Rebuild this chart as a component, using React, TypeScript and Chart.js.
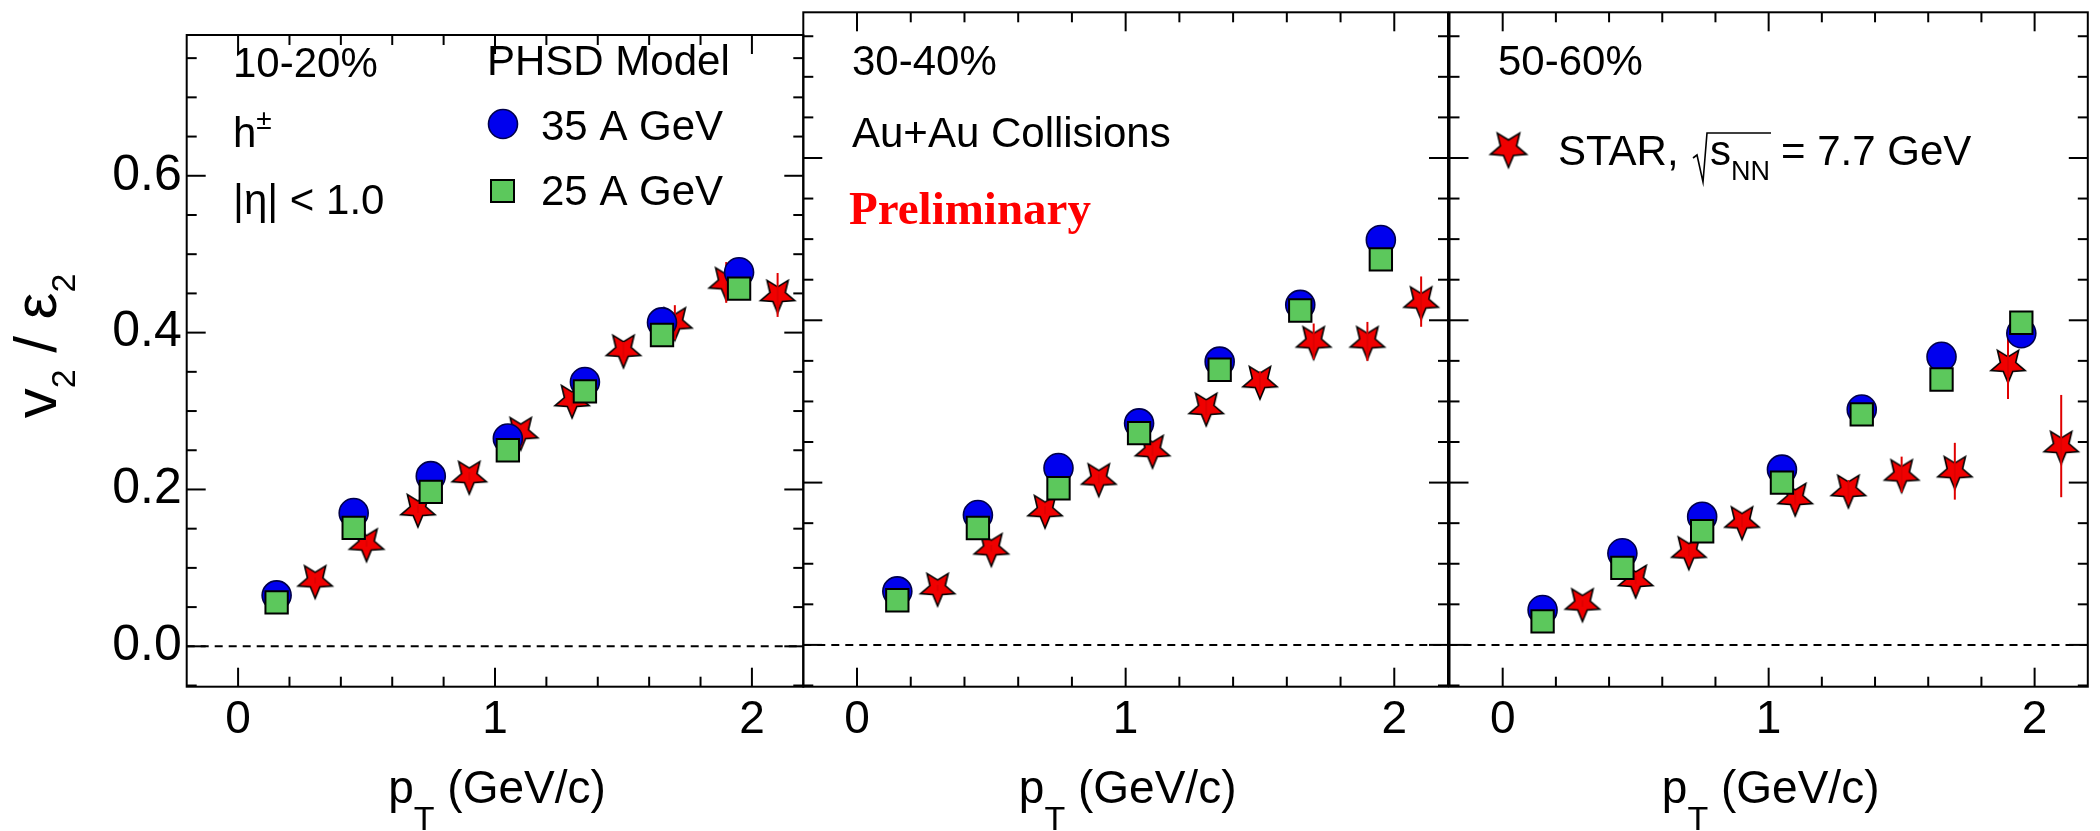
import React, { useEffect, useRef } from 'react';
import { Chart, registerables } from 'chart.js';

Chart.register(...registerables);

// ---------------- data ----------------
const phsdPt = [0.15, 0.45, 0.75, 1.05, 1.35, 1.65, 1.95];
const starPt = [0.3, 0.5, 0.7, 0.9, 1.1, 1.3, 1.5, 1.7, 1.9, 2.1];

// 10-20%
const p1Phsd35 = [0.065, 0.17, 0.217, 0.265, 0.337, 0.413, 0.477];
const p1Phsd25 = [0.056, 0.151, 0.197, 0.25, 0.325, 0.397, 0.456];
const p1Star = [0.084, 0.131, 0.175, 0.217, 0.273, 0.314, 0.378, 0.413, 0.464, 0.448];
const p1StarErr = [0.004, 0.004, 0.005, 0.005, 0.006, 0.008, 0.01, 0.022, 0.026, 0.028];

// 30-40%
const p2Phsd35 = [0.066, 0.16, 0.218, 0.273, 0.349, 0.419, 0.499];
const p2Phsd25 = [0.055, 0.144, 0.193, 0.261, 0.339, 0.412, 0.475];
const p2Star = [0.07, 0.119, 0.166, 0.205, 0.24, 0.292, 0.325, 0.374, 0.374, 0.423];
const p2StarErr = [0.004, 0.004, 0.005, 0.006, 0.007, 0.009, 0.012, 0.022, 0.024, 0.031];

// 50-60%
const p3Phsd35 = [0.043, 0.113, 0.158, 0.216, 0.29, 0.355, 0.384];
const p3Phsd25 = [0.029, 0.095, 0.14, 0.2, 0.284, 0.327, 0.397];
const p3Star = [0.051, 0.08, 0.115, 0.152, 0.181, 0.191, 0.21, 0.214, 0.345, 0.245];
const p3StarErr = [0.004, 0.005, 0.006, 0.007, 0.008, 0.012, 0.022, 0.035, 0.042, 0.063];

const xTickValues = [0, 1, 2];
const yTickValues = [0, 0.2, 0.4, 0.6];
const zeroLineX = [-0.2, 2.2];
const xRange = [-0.2, 2.2];
const yRange = [-0.0515, 0.7795];
const centralityLabels = ['10-20%', '30-40%', '50-60%'];

// ---------------- styles ----------------
const SANS = '"Liberation Sans", Arial, Helvetica, sans-serif';
const SERIF = '"Liberation Serif", "Times New Roman", serif';
const BLUE = '#0000ee';
const BLUE_EDGE = '#00004a';
const GREEN = '#5cc85c';
const RED = '#f00000';

const H = 831;
const AREA_TOP = 12.3;
const AREA_BOTTOM = 686.7;

const layouts = [
  { canvasLeft: 0, canvasWidth: 830, areaLeft: 186.7, areaRight: 803.3 },
  { canvasLeft: 780, canvasWidth: 700, areaLeft: 803.3, areaRight: 1448 },
  { canvasLeft: 1420, canvasWidth: 680, areaLeft: 1449.5, areaRight: 2087.8 },
];

const seriesByPanel = [
  { p35: p1Phsd35, p25: p1Phsd25, star: p1Star, err: p1StarErr },
  { p35: p2Phsd35, p25: p2Phsd25, star: p2Star, err: p2StarErr },
  { p35: p3Phsd35, p25: p3Phsd25, star: p3Star, err: p3StarErr },
];

function makeStar(R: number, fill: string): HTMLCanvasElement {
  const size = Math.ceil(2 * R + 6);
  const c = document.createElement('canvas');
  c.width = size;
  c.height = size;
  const g = c.getContext('2d')!;
  const cx = size / 2;
  const cy = size / 2;
  const r = R * 0.45;
  g.beginPath();
  for (let k = 0; k < 10; k++) {
    const ang = ((90 + k * 36) * Math.PI) / 180;
    const rad = k % 2 === 0 ? R : r;
    const px = cx + rad * Math.cos(ang);
    const py = cy + rad * Math.sin(ang);
    if (k === 0) g.moveTo(px, py);
    else g.lineTo(px, py);
  }
  g.closePath();
  g.fillStyle = fill;
  g.fill();
  g.lineWidth = 1.6;
  g.strokeStyle = '#000';
  g.lineJoin = 'miter';
  g.stroke();
  return c;
}

function line(ctx: CanvasRenderingContext2D, x1: number, y1: number, x2: number, y2: number) {
  ctx.beginPath();
  ctx.moveTo(x1, y1);
  ctx.lineTo(x2, y2);
  ctx.stroke();
}

function drawFrame(chart: any) {
  const ctx: CanvasRenderingContext2D = chart.ctx;
  const { left, right, top, bottom } = chart.chartArea;
  const xs = chart.scales.x;
  const ys = chart.scales.y;
  ctx.save();
  ctx.strokeStyle = '#000';
  ctx.lineWidth = 2;
  ctx.strokeRect(left, top, right - left, bottom - top);
  for (let i = -1; i <= 12; i++) {
    const v = i * 0.2;
    if (v <= xs.min + 1e-6 || v >= xs.max - 1e-6) continue;
    const px = xs.getPixelForValue(v);
    const len = i % 5 === 0 ? 19 : 10;
    line(ctx, px, bottom, px, bottom - len);
    line(ctx, px, top, px, top + len);
  }
  for (let i = -2; i <= 16; i++) {
    const v = i * 0.05;
    if (v <= ys.min + 1e-6 || v >= ys.max - 1e-6) continue;
    const py = ys.getPixelForValue(v);
    const len = i % 4 === 0 ? 19 : 10;
    line(ctx, left, py, left + len, py);
    line(ctx, right, py, right - len, py);
  }
  ctx.restore();
}

function drawXTitle(chart: any) {
  const ctx: CanvasRenderingContext2D = chart.ctx;
  const { left, right } = chart.chartArea;
  ctx.save();
  ctx.fillStyle = '#000';
  ctx.textBaseline = 'alphabetic';
  ctx.textAlign = 'left';
  const big = `46px ${SANS}`;
  const small = `34px ${SANS}`;
  ctx.font = big;
  const wp = ctx.measureText('p').width;
  const wr = ctx.measureText(' (GeV/c)').width;
  ctx.font = small;
  const wt = ctx.measureText('T').width;
  const total = wp + wt + wr;
  let x = (left + right) / 2 - total / 2 + 2;
  ctx.font = big;
  ctx.fillText('p', x, 803);
  x += wp;
  ctx.font = small;
  ctx.fillText('T', x, 830);
  x += wt;
  ctx.font = big;
  ctx.fillText(' (GeV/c)', x, 803);
  ctx.restore();
}

function drawYTitle(chart: any) {
  const ctx: CanvasRenderingContext2D = chart.ctx;
  ctx.save();
  ctx.fillStyle = '#000';
  ctx.textBaseline = 'alphabetic';
  ctx.textAlign = 'left';
  const big = `60px ${SANS}`;
  const small = `34px ${SANS}`;
  const parts: [string, string, number][] = [
    ['v', big, 0],
    ['2', small, 19],
    [' / ', big, 0],
    ['\u03b5', big, 0],
    ['2', small, 19],
  ];
  let total = 0;
  const widths = parts.map(([t, f]) => {
    ctx.font = f;
    const w = ctx.measureText(t).width;
    total += w;
    return w;
  });
  ctx.translate(56, 346 + total / 2);
  ctx.rotate(-Math.PI / 2);
  let x = 0;
  parts.forEach(([t, f, dy], i) => {
    ctx.font = f;
    ctx.fillText(t, x, dy);
    x += widths[i];
  });
  ctx.restore();
}

function drawAnnotations(chart: any, panel: number, starLegend: HTMLCanvasElement) {
  const ctx: CanvasRenderingContext2D = chart.ctx;
  const off = layouts[panel].canvasLeft;
  const T = `42px ${SANS}`;
  ctx.save();
  ctx.fillStyle = '#000';
  ctx.textBaseline = 'alphabetic';
  ctx.textAlign = 'left';
  ctx.font = T;
  if (panel === 0) {
    ctx.fillText(centralityLabels[0], 233 - off, 77);
    ctx.fillText('h', 233 - off, 147);
    const wh = ctx.measureText('h').width;
    ctx.font = `28px ${SANS}`;
    ctx.fillText('\u00b1', 233 - off + wh, 129);
    ctx.font = T;
    ctx.fillText('|\u03b7| < 1.0', 233 - off, 214);
    ctx.fillText('PHSD Model', 487 - off, 75);
    // legend circle
    ctx.beginPath();
    ctx.arc(503 - off, 124, 14.5, 0, Math.PI * 2);
    ctx.fillStyle = BLUE;
    ctx.fill();
    ctx.lineWidth = 1.6;
    ctx.strokeStyle = BLUE_EDGE;
    ctx.stroke();
    ctx.fillStyle = '#000';
    ctx.fillText('35 A GeV', 541 - off, 140);
    // legend square
    ctx.fillStyle = GREEN;
    ctx.fillRect(491 - off, 180, 23, 22);
    ctx.lineWidth = 2;
    ctx.strokeStyle = '#000';
    ctx.strokeRect(491 - off, 180, 23, 22);
    ctx.fillStyle = '#000';
    ctx.fillText('25 A GeV', 541 - off, 205);
  } else if (panel === 1) {
    ctx.fillText(centralityLabels[1], 852 - off, 75);
    ctx.fillText('Au+Au Collisions', 852 - off, 147);
    ctx.font = `bold 47px ${SERIF}`;
    ctx.fillStyle = '#ff0000';
    ctx.fillText('Preliminary', 849 - off, 224);
  } else {
    ctx.fillText(centralityLabels[2], 1498 - off, 75);
    ctx.drawImage(starLegend, 1508.5 - off - starLegend.width / 2, 148.5 - starLegend.height / 2);
    ctx.fillText('STAR,', 1558 - off, 165);
    // sqrt(s_NN)
    ctx.lineWidth = 1.6;
    ctx.strokeStyle = '#000';
    const sx = 1710 - off;
    const ws = ctx.measureText('s').width;
    ctx.fillText('s', sx, 165);
    ctx.font = `27px ${SANS}`;
    const wnn = ctx.measureText('NN').width;
    ctx.fillText('NN', sx + ws, 180);
    const endBar = sx + ws + wnn + 1;
    ctx.beginPath();
    ctx.moveTo(1693 - off, 158);
    ctx.lineTo(1697 - off, 155);
    ctx.lineTo(1703 - off, 182);
    ctx.lineTo(1707 - off, 133);
    ctx.lineTo(endBar, 133);
    ctx.stroke();
    ctx.font = T;
    ctx.fillText('= 7.7 GeV', endBar + 10, 165);
  }
  ctx.restore();
}

function drawErrors(chart: any, panel: number) {
  const ctx: CanvasRenderingContext2D = chart.ctx;
  const xs = chart.scales.x;
  const ys = chart.scales.y;
  const s = seriesByPanel[panel];
  ctx.save();
  ctx.strokeStyle = '#e00000';
  ctx.lineWidth = 2;
  starPt.forEach((x, i) => {
    const px = xs.getPixelForValue(x);
    line(ctx, px, ys.getPixelForValue(s.star[i] - s.err[i]), px, ys.getPixelForValue(s.star[i] + s.err[i]));
  });
  ctx.restore();
}

function makeConfig(panel: number, starImg: HTMLCanvasElement, starLegend: HTMLCanvasElement): any {
  const L = layouts[panel];
  const s = seriesByPanel[panel];
  const isFirst = panel === 0;
  return {
    type: 'scatter',
    data: {
      datasets: [
        {
          label: 'PHSD 25 A GeV',
          data: phsdPt.map((x, i) => ({ x, y: s.p25[i] })),
          pointStyle: 'rect',
          pointRadius: 15.8,
          backgroundColor: GREEN,
          borderColor: '#000',
          borderWidth: 2,
          clip: false,
        },
        {
          label: 'PHSD 35 A GeV',
          data: phsdPt.map((x, i) => ({ x, y: s.p35[i] })),
          pointStyle: 'circle',
          pointRadius: 14.5,
          backgroundColor: BLUE,
          borderColor: BLUE_EDGE,
          borderWidth: 1.6,
          clip: false,
        },
        {
          label: 'STAR',
          data: starPt.map((x, i) => ({ x, y: s.star[i] })),
          pointStyle: starImg,
          pointRadius: 17,
          clip: false,
        },
        {
          label: 'zero',
          data: zeroLineX.map((x) => ({ x, y: 0 })),
          showLine: true,
          pointRadius: 0,
          borderColor: '#000',
          borderWidth: 2,
          borderDash: [8, 6],
        },
      ],
    },
    options: {
      animation: false,
      responsive: false,
      devicePixelRatio: 1,
      events: [],
      layout: {
        autoPadding: false,
        padding: {
          left: isFirst ? 0 : L.areaLeft - L.canvasLeft,
          right: L.canvasLeft + L.canvasWidth - L.areaRight,
          top: AREA_TOP,
          bottom: 0,
        },
      },
      plugins: { legend: { display: false }, tooltip: { enabled: false } },
      scales: {
        x: {
          type: 'linear',
          min: xRange[0],
          max: xRange[1],
          grid: { display: false, drawTicks: false },
          border: { display: false },
          afterBuildTicks: (sc: any) => {
            sc.ticks = xTickValues.map((v) => ({ value: v }));
          },
          afterFit: (sc: any) => {
            sc.height = H - AREA_BOTTOM;
          },
          ticks: {
            padding: 6,
            color: '#000',
            maxRotation: 0,
            autoSkip: false,
            font: { family: SANS, size: 46 },
            callback: (v: number) => String(v),
          },
        },
        y: {
          type: 'linear',
          display: isFirst,
          min: yRange[0],
          max: yRange[1],
          grid: { display: false, drawTicks: false },
          border: { display: false },
          afterBuildTicks: (sc: any) => {
            sc.ticks = yTickValues.map((v) => ({ value: v }));
          },
          afterFit: (sc: any) => {
            if (isFirst) sc.width = L.areaLeft;
          },
          ticks: {
            padding: 5,
            color: '#000',
            autoSkip: false,
            font: { family: SANS, size: 50 },
            callback: (v: number) => Number(v).toFixed(1),
          },
        },
      },
    },
    plugins: [
      {
        id: 'rootStyle' + panel,
        afterDatasetDraw(chart: any, args: any) {
          if (args.index === 2) drawErrors(chart, panel);
        },
        afterDraw(chart: any) {
          drawFrame(chart);
          drawXTitle(chart);
          if (isFirst) drawYTitle(chart);
          drawAnnotations(chart, panel, starLegend);
        },
      },
    ],
  };
}

export default function App() {
  const r0 = useRef<HTMLCanvasElement>(null);
  const r1 = useRef<HTMLCanvasElement>(null);
  const r2 = useRef<HTMLCanvasElement>(null);

  useEffect(() => {
    const starImg = makeStar(18, RED);
    const starLegend = makeStar(19, RED);
    const refs = [r0, r1, r2];
    const charts = refs.map((r, i) => new Chart(r.current!, makeConfig(i, starImg, starLegend)));
    return () => charts.forEach((c) => c.destroy());
  }, []);

  const refs = [r0, r1, r2];
  return (
    <div style={{ position: 'absolute', left: 0, top: 0, width: 2100, height: H, background: '#fff', overflow: 'hidden' }}>
      {layouts.map((L, i) => (
        <canvas
          key={i}
          ref={refs[i]}
          width={L.canvasWidth}
          height={H}
          style={{ position: 'absolute', left: L.canvasLeft, top: 0, width: L.canvasWidth, height: H }}
        />
      ))}
    </div>
  );
}
